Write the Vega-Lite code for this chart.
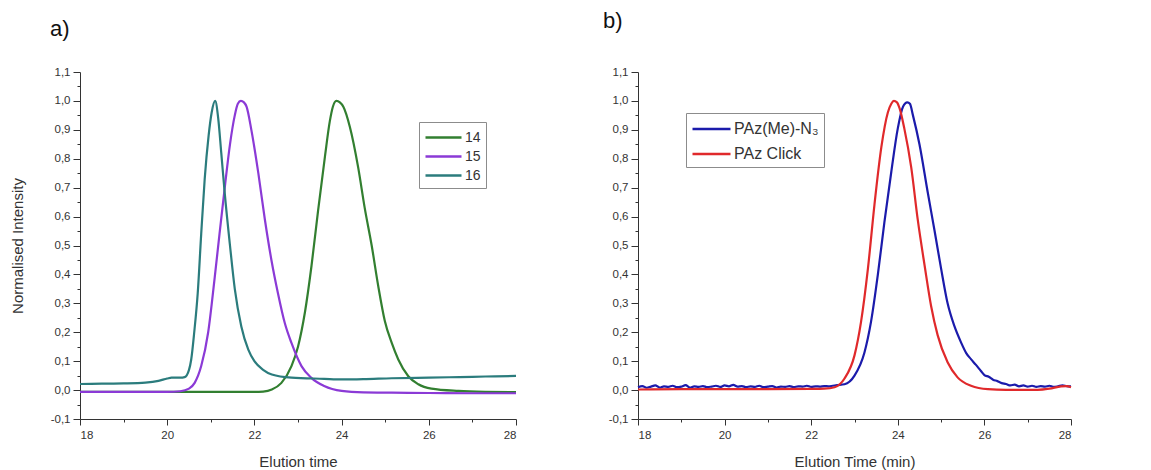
{
  "$schema": "https://vega.github.io/schema/vega-lite/v6.json",
  "background": "white",
  "padding": {"left": 10, "top": 10, "right": 0, "bottom": 0},
  "config": {
    "font": "Liberation Sans",
    "view": {"stroke": null},
    "axis": {"grid": false, "domainColor": "#333", "tickColor": "#333", "labelColor": "#333", "titleColor": "#333", "labelFont": "Liberation Sans", "titleFont": "Liberation Sans", "titleFontWeight": "normal", "labelFontSize": 11.5, "titleFontSize": 15, "domainWidth": 1, "tickWidth": 1},
    "title": {"font": "Liberation Sans", "fontWeight": "normal", "fontSize": 22, "color": "#111", "anchor": "start", "frame": "group", "baseline": "alphabetic"}
  },
  "datasets": {
    "a": [
      {"t": 18.0, "v": -0.006, "s": "14"}, {"t": 20.0, "v": -0.006, "s": "14"}, {"t": 22.0, "v": -0.006, "s": "14"}, {"t": 22.2, "v": -0.005, "s": "14"}, {"t": 22.4, "v": 0.002, "s": "14"}, {"t": 22.62, "v": 0.025, "s": "14"}, {"t": 22.85, "v": 0.083, "s": "14"}, {"t": 23.0, "v": 0.15, "s": "14"}, {"t": 23.16, "v": 0.27, "s": "14"}, {"t": 23.31, "v": 0.43, "s": "14"}, {"t": 23.46, "v": 0.62, "s": "14"}, {"t": 23.62, "v": 0.81, "s": "14"}, {"t": 23.73, "v": 0.93, "s": "14"}, {"t": 23.8, "v": 0.98, "s": "14"}, {"t": 23.88, "v": 1.0, "s": "14"}, {"t": 23.96, "v": 0.995, "s": "14"}, {"t": 24.04, "v": 0.98, "s": "14"}, {"t": 24.19, "v": 0.91, "s": "14"}, {"t": 24.38, "v": 0.77, "s": "14"}, {"t": 24.53, "v": 0.63, "s": "14"}, {"t": 24.69, "v": 0.5, "s": "14"}, {"t": 24.84, "v": 0.36, "s": "14"}, {"t": 24.99, "v": 0.24, "s": "14"}, {"t": 25.15, "v": 0.163, "s": "14"}, {"t": 25.3, "v": 0.106, "s": "14"}, {"t": 25.53, "v": 0.048, "s": "14"}, {"t": 25.76, "v": 0.02, "s": "14"}, {"t": 26.06, "v": 0.005, "s": "14"}, {"t": 26.68, "v": -0.003, "s": "14"}, {"t": 27.3, "v": -0.006, "s": "14"}, {"t": 28.0, "v": -0.007, "s": "14"},
      {"t": 18.0, "v": -0.006, "s": "15"}, {"t": 19.0, "v": -0.006, "s": "15"}, {"t": 20.0, "v": -0.006, "s": "15"}, {"t": 20.3, "v": -0.004, "s": "15"}, {"t": 20.5, "v": 0.005, "s": "15"}, {"t": 20.63, "v": 0.025, "s": "15"}, {"t": 20.78, "v": 0.083, "s": "15"}, {"t": 20.94, "v": 0.2, "s": "15"}, {"t": 21.09, "v": 0.39, "s": "15"}, {"t": 21.2, "v": 0.54, "s": "15"}, {"t": 21.32, "v": 0.7, "s": "15"}, {"t": 21.44, "v": 0.85, "s": "15"}, {"t": 21.55, "v": 0.95, "s": "15"}, {"t": 21.62, "v": 0.99, "s": "15"}, {"t": 21.69, "v": 1.0, "s": "15"}, {"t": 21.76, "v": 0.995, "s": "15"}, {"t": 21.82, "v": 0.98, "s": "15"}, {"t": 21.93, "v": 0.9, "s": "15"}, {"t": 22.09, "v": 0.75, "s": "15"}, {"t": 22.24, "v": 0.59, "s": "15"}, {"t": 22.39, "v": 0.45, "s": "15"}, {"t": 22.54, "v": 0.335, "s": "15"}, {"t": 22.7, "v": 0.23, "s": "15"}, {"t": 22.85, "v": 0.163, "s": "15"}, {"t": 23.08, "v": 0.083, "s": "15"}, {"t": 23.3, "v": 0.043, "s": "15"}, {"t": 23.6, "v": 0.014, "s": "15"}, {"t": 24.0, "v": -0.003, "s": "15"}, {"t": 24.5, "v": -0.008, "s": "15"}, {"t": 25.15, "v": -0.009, "s": "15"}, {"t": 26.0, "v": -0.01, "s": "15"}, {"t": 27.0, "v": -0.011, "s": "15"}, {"t": 28.0, "v": -0.011, "s": "15"},
      {"t": 18.0, "v": 0.021, "s": "16"}, {"t": 18.5, "v": 0.022, "s": "16"}, {"t": 19.0, "v": 0.023, "s": "16"}, {"t": 19.5, "v": 0.026, "s": "16"}, {"t": 19.8, "v": 0.032, "s": "16"}, {"t": 20.0, "v": 0.04, "s": "16"}, {"t": 20.1, "v": 0.043, "s": "16"}, {"t": 20.3, "v": 0.043, "s": "16"}, {"t": 20.4, "v": 0.045, "s": "16"}, {"t": 20.5, "v": 0.07, "s": "16"}, {"t": 20.55, "v": 0.105, "s": "16"}, {"t": 20.62, "v": 0.2, "s": "16"}, {"t": 20.7, "v": 0.335, "s": "16"}, {"t": 20.78, "v": 0.54, "s": "16"}, {"t": 20.86, "v": 0.73, "s": "16"}, {"t": 20.95, "v": 0.88, "s": "16"}, {"t": 21.02, "v": 0.96, "s": "16"}, {"t": 21.1, "v": 1.0, "s": "16"}, {"t": 21.17, "v": 0.94, "s": "16"}, {"t": 21.24, "v": 0.82, "s": "16"}, {"t": 21.32, "v": 0.68, "s": "16"}, {"t": 21.44, "v": 0.5, "s": "16"}, {"t": 21.55, "v": 0.35, "s": "16"}, {"t": 21.7, "v": 0.22, "s": "16"}, {"t": 21.86, "v": 0.14, "s": "16"}, {"t": 22.0, "v": 0.1, "s": "16"}, {"t": 22.2, "v": 0.07, "s": "16"}, {"t": 22.4, "v": 0.054, "s": "16"}, {"t": 22.85, "v": 0.043, "s": "16"}, {"t": 23.6, "v": 0.039, "s": "16"}, {"t": 24.0, "v": 0.037, "s": "16"}, {"t": 24.5, "v": 0.038, "s": "16"}, {"t": 25.15, "v": 0.041, "s": "16"}, {"t": 26.0, "v": 0.043, "s": "16"}, {"t": 26.7, "v": 0.045, "s": "16"}, {"t": 27.3, "v": 0.047, "s": "16"}, {"t": 28.0, "v": 0.049, "s": "16"}
    ],
    "b": [
      {"t": 18.0, "v": 0.010, "s": "PAz(Me)-N₃"}, {"t": 18.1, "v": 0.014, "s": "PAz(Me)-N₃"}, {"t": 18.2, "v": 0.008, "s": "PAz(Me)-N₃"}, {"t": 18.3, "v": 0.012, "s": "PAz(Me)-N₃"}, {"t": 18.4, "v": 0.016, "s": "PAz(Me)-N₃"}, {"t": 18.5, "v": 0.009, "s": "PAz(Me)-N₃"}, {"t": 18.6, "v": 0.013, "s": "PAz(Me)-N₃"}, {"t": 18.7, "v": 0.011, "s": "PAz(Me)-N₃"}, {"t": 18.8, "v": 0.015, "s": "PAz(Me)-N₃"}, {"t": 18.9, "v": 0.010, "s": "PAz(Me)-N₃"}, {"t": 19.0, "v": 0.012, "s": "PAz(Me)-N₃"}, {"t": 19.1, "v": 0.017, "s": "PAz(Me)-N₃"}, {"t": 19.2, "v": 0.009, "s": "PAz(Me)-N₃"}, {"t": 19.3, "v": 0.013, "s": "PAz(Me)-N₃"}, {"t": 19.4, "v": 0.011, "s": "PAz(Me)-N₃"}, {"t": 19.5, "v": 0.014, "s": "PAz(Me)-N₃"}, {"t": 19.6, "v": 0.010, "s": "PAz(Me)-N₃"}, {"t": 19.7, "v": 0.012, "s": "PAz(Me)-N₃"}, {"t": 19.8, "v": 0.015, "s": "PAz(Me)-N₃"}, {"t": 19.9, "v": 0.011, "s": "PAz(Me)-N₃"}, {"t": 20.0, "v": 0.016, "s": "PAz(Me)-N₃"}, {"t": 20.1, "v": 0.013, "s": "PAz(Me)-N₃"}, {"t": 20.2, "v": 0.018, "s": "PAz(Me)-N₃"}, {"t": 20.3, "v": 0.012, "s": "PAz(Me)-N₃"}, {"t": 20.4, "v": 0.014, "s": "PAz(Me)-N₃"}, {"t": 20.5, "v": 0.010, "s": "PAz(Me)-N₃"}, {"t": 20.6, "v": 0.013, "s": "PAz(Me)-N₃"}, {"t": 20.7, "v": 0.011, "s": "PAz(Me)-N₃"}, {"t": 20.8, "v": 0.015, "s": "PAz(Me)-N₃"}, {"t": 20.9, "v": 0.010, "s": "PAz(Me)-N₃"}, {"t": 21.0, "v": 0.012, "s": "PAz(Me)-N₃"}, {"t": 21.1, "v": 0.014, "s": "PAz(Me)-N₃"}, {"t": 21.2, "v": 0.009, "s": "PAz(Me)-N₃"}, {"t": 21.3, "v": 0.012, "s": "PAz(Me)-N₃"}, {"t": 21.4, "v": 0.011, "s": "PAz(Me)-N₃"}, {"t": 21.5, "v": 0.014, "s": "PAz(Me)-N₃"}, {"t": 21.6, "v": 0.010, "s": "PAz(Me)-N₃"}, {"t": 21.7, "v": 0.013, "s": "PAz(Me)-N₃"}, {"t": 21.8, "v": 0.012, "s": "PAz(Me)-N₃"}, {"t": 21.9, "v": 0.015, "s": "PAz(Me)-N₃"}, {"t": 22.0, "v": 0.011, "s": "PAz(Me)-N₃"}, {"t": 22.1, "v": 0.013, "s": "PAz(Me)-N₃"}, {"t": 22.2, "v": 0.012, "s": "PAz(Me)-N₃"}, {"t": 22.3, "v": 0.014, "s": "PAz(Me)-N₃"}, {"t": 22.4, "v": 0.013, "s": "PAz(Me)-N₃"}, {"t": 22.5, "v": 0.015, "s": "PAz(Me)-N₃"}, {"t": 22.6, "v": 0.017, "s": "PAz(Me)-N₃"}, {"t": 22.77, "v": 0.02, "s": "PAz(Me)-N₃"}, {"t": 23.0, "v": 0.05, "s": "PAz(Me)-N₃"}, {"t": 23.23, "v": 0.13, "s": "PAz(Me)-N₃"}, {"t": 23.38, "v": 0.235, "s": "PAz(Me)-N₃"}, {"t": 23.54, "v": 0.4, "s": "PAz(Me)-N₃"}, {"t": 23.69, "v": 0.58, "s": "PAz(Me)-N₃"}, {"t": 23.85, "v": 0.755, "s": "PAz(Me)-N₃"}, {"t": 24.0, "v": 0.905, "s": "PAz(Me)-N₃"}, {"t": 24.12, "v": 0.98, "s": "PAz(Me)-N₃"}, {"t": 24.22, "v": 0.995, "s": "PAz(Me)-N₃"}, {"t": 24.28, "v": 0.99, "s": "PAz(Me)-N₃"}, {"t": 24.35, "v": 0.95, "s": "PAz(Me)-N₃"}, {"t": 24.5, "v": 0.85, "s": "PAz(Me)-N₃"}, {"t": 24.69, "v": 0.685, "s": "PAz(Me)-N₃"}, {"t": 24.85, "v": 0.55, "s": "PAz(Me)-N₃"}, {"t": 25.0, "v": 0.42, "s": "PAz(Me)-N₃"}, {"t": 25.15, "v": 0.3, "s": "PAz(Me)-N₃"}, {"t": 25.31, "v": 0.22, "s": "PAz(Me)-N₃"}, {"t": 25.46, "v": 0.165, "s": "PAz(Me)-N₃"}, {"t": 25.58, "v": 0.128, "s": "PAz(Me)-N₃"}, {"t": 25.69, "v": 0.107, "s": "PAz(Me)-N₃"}, {"t": 25.8, "v": 0.088, "s": "PAz(Me)-N₃"}, {"t": 25.92, "v": 0.066, "s": "PAz(Me)-N₃"}, {"t": 26.0, "v": 0.052, "s": "PAz(Me)-N₃"}, {"t": 26.1, "v": 0.046, "s": "PAz(Me)-N₃"}, {"t": 26.2, "v": 0.036, "s": "PAz(Me)-N₃"}, {"t": 26.3, "v": 0.031, "s": "PAz(Me)-N₃"}, {"t": 26.4, "v": 0.024, "s": "PAz(Me)-N₃"}, {"t": 26.5, "v": 0.021, "s": "PAz(Me)-N₃"}, {"t": 26.6, "v": 0.016, "s": "PAz(Me)-N₃"}, {"t": 26.7, "v": 0.019, "s": "PAz(Me)-N₃"}, {"t": 26.8, "v": 0.013, "s": "PAz(Me)-N₃"}, {"t": 26.9, "v": 0.016, "s": "PAz(Me)-N₃"}, {"t": 27.0, "v": 0.012, "s": "PAz(Me)-N₃"}, {"t": 27.1, "v": 0.015, "s": "PAz(Me)-N₃"}, {"t": 27.2, "v": 0.011, "s": "PAz(Me)-N₃"}, {"t": 27.3, "v": 0.014, "s": "PAz(Me)-N₃"}, {"t": 27.4, "v": 0.012, "s": "PAz(Me)-N₃"}, {"t": 27.5, "v": 0.015, "s": "PAz(Me)-N₃"}, {"t": 27.6, "v": 0.011, "s": "PAz(Me)-N₃"}, {"t": 27.7, "v": 0.013, "s": "PAz(Me)-N₃"}, {"t": 27.8, "v": 0.016, "s": "PAz(Me)-N₃"}, {"t": 27.9, "v": 0.014, "s": "PAz(Me)-N₃"}, {"t": 28.0, "v": 0.013, "s": "PAz(Me)-N₃"},
      {"t": 18.0, "v": 0.002, "s": "PAz Click"}, {"t": 19.0, "v": 0.003, "s": "PAz Click"}, {"t": 20.0, "v": 0.003, "s": "PAz Click"}, {"t": 21.0, "v": 0.003, "s": "PAz Click"}, {"t": 22.0, "v": 0.004, "s": "PAz Click"}, {"t": 22.3, "v": 0.005, "s": "PAz Click"}, {"t": 22.54, "v": 0.01, "s": "PAz Click"}, {"t": 22.77, "v": 0.04, "s": "PAz Click"}, {"t": 23.0, "v": 0.12, "s": "PAz Click"}, {"t": 23.15, "v": 0.235, "s": "PAz Click"}, {"t": 23.31, "v": 0.42, "s": "PAz Click"}, {"t": 23.46, "v": 0.64, "s": "PAz Click"}, {"t": 23.62, "v": 0.84, "s": "PAz Click"}, {"t": 23.77, "v": 0.96, "s": "PAz Click"}, {"t": 23.85, "v": 0.99, "s": "PAz Click"}, {"t": 23.91, "v": 1.0, "s": "PAz Click"}, {"t": 23.98, "v": 0.995, "s": "PAz Click"}, {"t": 24.04, "v": 0.975, "s": "PAz Click"}, {"t": 24.15, "v": 0.905, "s": "PAz Click"}, {"t": 24.31, "v": 0.77, "s": "PAz Click"}, {"t": 24.46, "v": 0.59, "s": "PAz Click"}, {"t": 24.62, "v": 0.43, "s": "PAz Click"}, {"t": 24.77, "v": 0.29, "s": "PAz Click"}, {"t": 24.92, "v": 0.19, "s": "PAz Click"}, {"t": 25.15, "v": 0.096, "s": "PAz Click"}, {"t": 25.38, "v": 0.044, "s": "PAz Click"}, {"t": 25.69, "v": 0.015, "s": "PAz Click"}, {"t": 26.08, "v": 0.003, "s": "PAz Click"}, {"t": 26.5, "v": 0.001, "s": "PAz Click"}, {"t": 27.23, "v": 0.001, "s": "PAz Click"}, {"t": 27.5, "v": 0.005, "s": "PAz Click"}, {"t": 27.77, "v": 0.013, "s": "PAz Click"}, {"t": 27.9, "v": 0.014, "s": "PAz Click"}, {"t": 28.0, "v": 0.01, "s": "PAz Click"}
    ]
  },
  "spacing": 122,
  "bounds": "flush",
  "resolve": {"scale": {"color": "independent"}, "legend": {"color": "independent"}},
  "hconcat": [
    {
      "title": {"text": "a)", "dx": -30, "offset": 25},
      "width": 436,
      "height": 347,
      "data": {"name": "a"},
      "resolve": {"axis": {"x": "independent", "y": "independent"}},
      "layer": [
        {
          "mark": {"type": "line", "strokeWidth": 2.2, "interpolate": "monotone"},
          "encoding": {
            "x": {"field": "t", "type": "quantitative", "scale": {"domain": [18, 28], "nice": false, "zero": false}, "axis": {"orient": "bottom", "title": "Elution time", "values": [18, 20, 22, 24, 26, 28], "tickSize": 6, "labelPadding": 4, "titlePadding": 14}},
            "y": {"field": "v", "type": "quantitative", "scale": {"domain": [-0.1, 1.1], "nice": false, "zero": false}, "axis": {"orient": "left", "title": "Normalised Intensity", "values": [-0.1, 0, 0.1, 0.2, 0.3, 0.4, 0.5, 0.6, 0.7, 0.8, 0.9, 1, 1.1], "labelExpr": "replace(replace(format(datum.value, '.1f'), '.', ','), '\u2212', '-')", "tickSize": 7, "labelPadding": 3, "titlePadding": 25}},
            "color": {"field": "s", "type": "nominal", "scale": {"domain": ["14", "15", "16"], "range": ["#327f30", "#8b3ad6", "#2b7c7d"]}, "legend": {"title": null, "orient": "none", "legendX": 339, "legendY": 50, "strokeColor": "#8c8c8c", "fillColor": "white", "padding": 5, "symbolType": "M-1,0H3", "symbolSize": 324, "symbolStrokeWidth": 2.5, "labelFontSize": 14, "labelColor": "#333", "labelOffset": 20, "rowPadding": 1}}
          }
        },
        {
          "mark": {"type": "line", "opacity": 0},
          "encoding": {
            "x": {"field": "t", "type": "quantitative", "axis": {"orient": "bottom", "title": null, "values": [19, 21, 23, 25, 27], "labels": false, "domain": false, "tickSize": 3}},
            "y": {"field": "v", "type": "quantitative", "axis": {"orient": "left", "title": null, "values": [-0.05, 0.05, 0.15, 0.25, 0.35, 0.45, 0.55, 0.65, 0.75, 0.85, 0.95, 1.05], "labels": false, "domain": false, "tickSize": 3}},
            "detail": {"field": "s"}
          }
        }
      ]
    },
    {
      "title": {"text": "b)", "dx": -35, "offset": 33},
      "width": 433,
      "height": 347,
      "data": {"name": "b"},
      "resolve": {"axis": {"x": "independent", "y": "independent"}},
      "layer": [
        {
          "mark": {"type": "line", "strokeWidth": 2.2, "interpolate": "monotone"},
          "encoding": {
            "x": {"field": "t", "type": "quantitative", "scale": {"domain": [18, 28], "nice": false, "zero": false}, "axis": {"orient": "bottom", "title": "Elution Time (min)", "values": [18, 20, 22, 24, 26, 28], "tickSize": 6, "labelPadding": 4, "titlePadding": 14}},
            "y": {"field": "v", "type": "quantitative", "scale": {"domain": [-0.1, 1.1], "nice": false, "zero": false}, "axis": {"orient": "left", "title": null, "values": [-0.1, 0, 0.1, 0.2, 0.3, 0.4, 0.5, 0.6, 0.7, 0.8, 0.9, 1, 1.1], "labelExpr": "replace(replace(format(datum.value, '.1f'), '.', ','), '\u2212', '-')", "tickSize": 7, "labelPadding": 3}},
            "color": {"field": "s", "type": "nominal", "scale": {"domain": ["PAz(Me)-N₃", "PAz Click"], "range": ["#1b1bab", "#e0292b"]}, "legend": {"title": null, "orient": "none", "legendX": 48, "legendY": 41, "strokeColor": "#8c8c8c", "fillColor": "white", "padding": 5, "symbolType": "M-1,0H3", "symbolSize": 361, "symbolStrokeWidth": 2.5, "labelFontSize": 16, "labelColor": "#333", "labelOffset": 21, "rowPadding": 6}}
          }
        },
        {
          "mark": {"type": "line", "opacity": 0},
          "encoding": {
            "x": {"field": "t", "type": "quantitative", "axis": {"orient": "bottom", "title": null, "values": [19, 21, 23, 25, 27], "labels": false, "domain": false, "tickSize": 3}},
            "y": {"field": "v", "type": "quantitative", "axis": {"orient": "left", "title": null, "values": [-0.05, 0.05, 0.15, 0.25, 0.35, 0.45, 0.55, 0.65, 0.75, 0.85, 0.95, 1.05], "labels": false, "domain": false, "tickSize": 3}},
            "detail": {"field": "s"}
          }
        }
      ]
    }
  ]
}
